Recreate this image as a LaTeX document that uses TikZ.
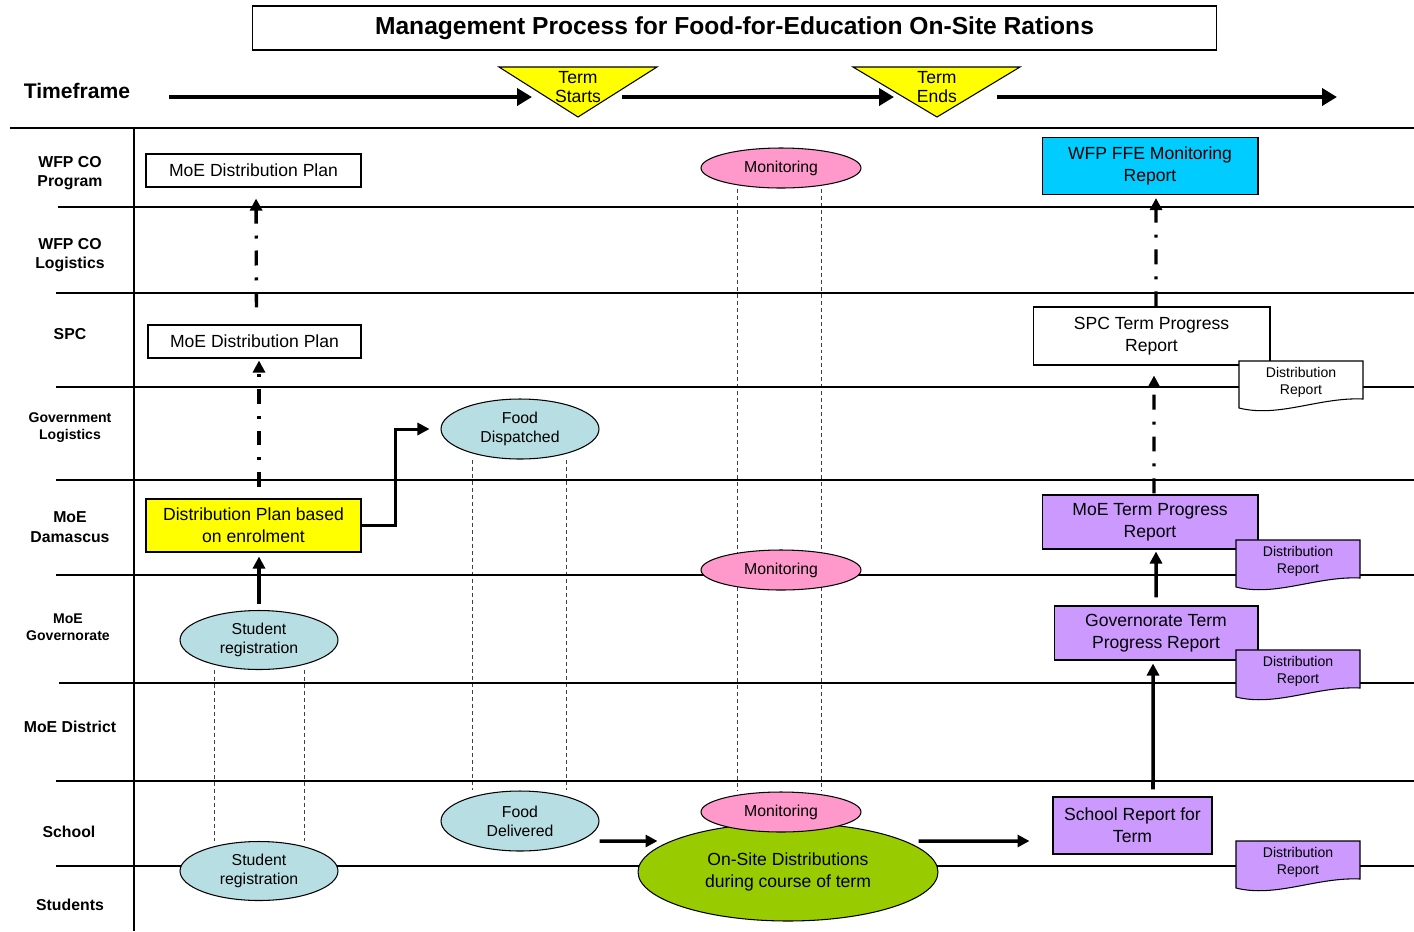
\documentclass[tikz,border=0pt]{standalone}
\usepackage{fontspec}
\setmainfont{Liberation Sans}
\usetikzlibrary{shapes.geometric,arrows.meta,backgrounds,calc}

\definecolor{planyellow}{HTML}{FFFF00}
\definecolor{eventblue}{HTML}{B7DEE3}
\definecolor{monitorpink}{HTML}{FF99CC}
\definecolor{reportcyan}{HTML}{00CCFF}
\definecolor{reportpurple}{HTML}{CC99FF}
\definecolor{sitegreen}{HTML}{99CC00}

\tikzset{
  >={Triangle[length=2.4mm,width=2.4mm]},
  lane/.style={line width=0.7pt},
  lanelabel/.style={font=\bfseries\fontsize{9}{11}\selectfont, align=center},
  smalllabel/.style={font=\bfseries\fontsize{8}{9.6}\selectfont, align=center},
  plainbox/.style={shape=rectangle, draw=black, line width=0.6pt, align=center, inner sep=0pt, font=\fontsize{10}{12.5}\selectfont},
  bubble/.style={shape=ellipse, draw=black, line width=0.6pt, align=center, inner sep=0pt, font=\fontsize{9}{10.8}\selectfont},
  guide/.style={dash pattern=on 0.8mm off 0.6mm, line width=0.5pt, black!75},
  flow/.style={->, line width=2pt},
  report/.style={->, line width=1.9pt, dash pattern=on 3mm off 2.4mm on 0.6mm off 2.4mm},
  timeline/.style={-{Triangle[length=3mm,width=3.4mm]}, line width=2.8pt},
  termmark/.style={fill=planyellow, draw=black, line width=0.6pt},
  termlabel/.style={align=center, inner sep=0pt, font=\fontsize{10}{11.3}\selectfont},
  doclabel/.style={align=center, inner sep=0pt, font=\fontsize{8}{9.6}\selectfont}
}

% report sheet with a wavy lower edge
\newcommand{\distdoc}[4]{%
  \begin{scope}[shift={(#2,#3)}]
    \draw[line width=0.6pt, fill=#4] (0,0) -- (0,47) .. controls (40,57) and (80,36) .. (124,38) -- (124,0) -- cycle;
    \node[doclabel] (#1) at (62,21.5) {Distribution\\Report};
  \end{scope}}

\begin{document}
\begin{tikzpicture}[x=0.02cm,y=-0.02cm]
    \useasboundingbox (0,0) rectangle (1414,931);

    % swim lanes
    \draw[lane] (10,128) -- (1414,128);
    \draw[lane] (134,128) -- (134,931);
    \draw[lane] (58,207) -- (1414,207);
    \draw[lane] (56,293) -- (1414,293);
    \draw[lane] (56,387) -- (1414,387);
    \draw[lane] (56,480) -- (1414,480);
    \draw[lane] (56,575) -- (1414,575);
    \draw[lane] (59,683) -- (1414,683);
    \draw[lane] (56,781) -- (1414,781);
    \draw[lane] (56,866) -- (1414,866);

    \node[lanelabel] (WFP CO Program) at (70,173) {WFP CO\\Program};
    \node[lanelabel] (WFP CO Logistics) at (70,255) {WFP CO\\Logistics};
    \node[lanelabel] (SPC) at (70,334) {SPC};
    \node[smalllabel] (Government Logistics) at (70,428) {Government\\Logistics};
    \node[lanelabel] (MoE Damascus) at (70,527) {MoE\\Damascus};
    \node[smalllabel] (MoE Governorate) at (68,627) {MoE\\Governorate};
    \node[lanelabel] (MoE District) at (70,727) {MoE District};
    \node[lanelabel] (School) at (69,832) {School};
    \node[lanelabel] (Students) at (70,905) {Students};

    % title and time axis
    \node[shape=rectangle,draw=black,line width=0.6pt,minimum width=19.3cm,minimum height=0.88cm,font=\bfseries\fontsize{14}{16}\selectfont] (Title) at (734.5,28) {Management Process for Food-for-Education On-Site Rations};
    \node[font=\bfseries\fontsize{12}{14}\selectfont] (Timeframe) at (77,91) {Timeframe};

    \draw[termmark] (499,67) -- (657,67) -- (578,117) -- cycle;
    \node[termlabel] (Term Starts) at (578,87) {Term\\Starts};
    \draw[termmark] (853,67) -- (1020,67) -- (937,117) -- cycle;
    \node[termlabel] (Term Ends) at (937,87) {Term\\Ends};

    \coordinate (Timeline Start) at (169,97);
    \coordinate (Starts In) at (532,97);
    \coordinate (Starts Out) at (622,97);
    \coordinate (Ends In) at (894,97);
    \coordinate (Ends Out) at (997,97);
    \coordinate (Timeline End) at (1337,97);
    \path [timeline] (Timeline Start) edge node {} (Starts In);
    \path [timeline] (Starts Out) edge node {} (Ends In);
    \path [timeline] (Ends Out) edge node {} (Timeline End);

    % plans
    \node[plainbox,minimum width=4.3cm,minimum height=0.66cm] (MoE Distribution Plan WFP) at (253.5,170.5) {MoE Distribution Plan};
    \node[plainbox,minimum width=4.26cm,minimum height=0.66cm] (MoE Distribution Plan SPC) at (254.5,341.5) {MoE Distribution Plan};
    \node[plainbox,fill=planyellow,minimum width=4.3cm,minimum height=1.06cm] (Distribution Plan) at (253.5,525.5) {Distribution Plan based\\on enrolment};

    % events
    \node[bubble,fill=eventblue,minimum width=3.16cm,minimum height=1.18cm] (Student Registration Governorate) at (259,640) {Student\\registration};
    \node[bubble,fill=eventblue,minimum width=3.16cm,minimum height=1.18cm] (Student Registration Students) at (259,871) {Student\\registration};
    \node[bubble,fill=eventblue,minimum width=3.16cm,minimum height=1.2cm] (Food Dispatched) at (520,429) {Food\\Dispatched};
    \node[bubble,fill=eventblue,minimum width=3.16cm,minimum height=1.2cm] (Food Delivered) at (520,821) {Food\\Delivered};
    \node[bubble,fill=sitegreen,minimum width=6cm,minimum height=1.96cm,font=\fontsize{10}{12.5}\selectfont] (On-Site Distributions) at (788,872) {On-Site Distributions\\during course of term};
    \node[bubble,fill=monitorpink,minimum width=3.2cm,minimum height=0.8cm] (Monitoring Program) at (781,168) {Monitoring};
    \node[bubble,fill=monitorpink,minimum width=3.2cm,minimum height=0.8cm] (Monitoring Damascus) at (781,570) {Monitoring};
    \node[bubble,fill=monitorpink,minimum width=3.2cm,minimum height=0.8cm] (Monitoring School) at (781,812) {Monitoring};

    % reports
    \node[plainbox,fill=reportcyan,minimum width=4.32cm,minimum height=1.14cm] (WFP FFE Monitoring Report) at (1150,166) {WFP FFE Monitoring\\Report};
    \node[plainbox,fill=white,minimum width=4.74cm,minimum height=1.16cm] (SPC Term Progress Report) at (1151.5,336) {SPC Term Progress\\Report};
    \node[plainbox,fill=reportpurple,minimum width=4.32cm,minimum height=1.08cm] (MoE Term Progress Report) at (1150,522) {MoE Term Progress\\Report};
    \node[plainbox,fill=reportpurple,minimum width=4.08cm,minimum height=1.08cm] (Governorate Term Progress Report) at (1156,633) {Governorate Term\\Progress Report};
    \node[plainbox,fill=reportpurple,minimum width=3.18cm,minimum height=1.14cm] (School Report for Term) at (1132.5,825.5) {School Report for\\Term};

    \distdoc{Distribution Report SPC}{1239}{361}{white}
    \distdoc{Distribution Report MoE}{1236}{540}{reportpurple}
    \distdoc{Distribution Report Governorate}{1236}{650}{reportpurple}
    \distdoc{Distribution Report School}{1236}{841}{reportpurple}

    % connectors
    \path [report] ([xshift=0.04cm]MoE Distribution Plan SPC.north) edge[shorten <=0.34cm,shorten >=0.22cm] node {} ([xshift=0.05cm]MoE Distribution Plan WFP.south);
    \path [report] ([xshift=0.11cm]Distribution Plan.north) edge[shorten <=0.22cm,shorten >=0.04cm] node {} ([xshift=0.09cm]MoE Distribution Plan SPC.south);
    \path [flow] (Student Registration Governorate) edge[shorten <=0.12cm,shorten >=0.08cm] node {} ([xshift=0.11cm]Distribution Plan.south);
    \draw [flow,line width=1.7pt] (Distribution Plan.east) -- ++(34,0) |- ([xshift=-0.22cm]Food Dispatched.west);

    \path [flow] ([yshift=-0.4cm]Food Delivered.east) edge node {} ([xshift=0.4cm,yshift=0.62cm]On-Site Distributions.west);
    \path [flow] ([xshift=-0.4cm,yshift=0.62cm]On-Site Distributions.east) edge node {} ([xshift=-0.46cm,yshift=-0.31cm]School Report for Term.west);

    \path [flow] ([xshift=0.41cm]School Report for Term.north) edge[shorten <=0.14cm,shorten >=0.06cm] node {} ([xshift=-0.06cm]Governorate Term Progress Report.south);
    \path [flow] (Governorate Term Progress Report.north) edge[shorten <=0.16cm,shorten >=0.04cm] node {} ([xshift=0.12cm]MoE Term Progress Report.south);
    \path [report] ([xshift=0.08cm]MoE Term Progress Report.north) edge[shorten <=0.02cm,shorten >=0.2cm] node {} ([xshift=0.05cm]SPC Term Progress Report.south);
    \path [report] ([xshift=0.09cm]SPC Term Progress Report.north) edge[shorten >=0.06cm] node {} ([xshift=0.12cm]WFP FFE Monitoring Report.south);

    % guide lines behind the events
    \begin{scope}[on background layer]
        \draw[guide] ($(Monitoring Program.south)+(-44,0)$) -- ($(Monitoring School.north)+(-44,0)$);
        \draw[guide] ($(Monitoring Program.south)+(40,0)$) -- ($(Monitoring School.north)+(40,0)$);
        \draw[guide] ($(Food Dispatched.south)+(-48,0)$) -- ($(Food Delivered.north)+(-48,0)$);
        \draw[guide] ($(Food Dispatched.south)+(46,0)$) -- ($(Food Delivered.north)+(46,0)$);
        \draw[guide] ($(Student Registration Governorate.south)+(-45,0)$) -- ($(Student Registration Students.north)+(-45,0)$);
        \draw[guide] ($(Student Registration Governorate.south)+(45,0)$) -- ($(Student Registration Students.north)+(45,0)$);
    \end{scope}
\end{tikzpicture}
\end{document}
